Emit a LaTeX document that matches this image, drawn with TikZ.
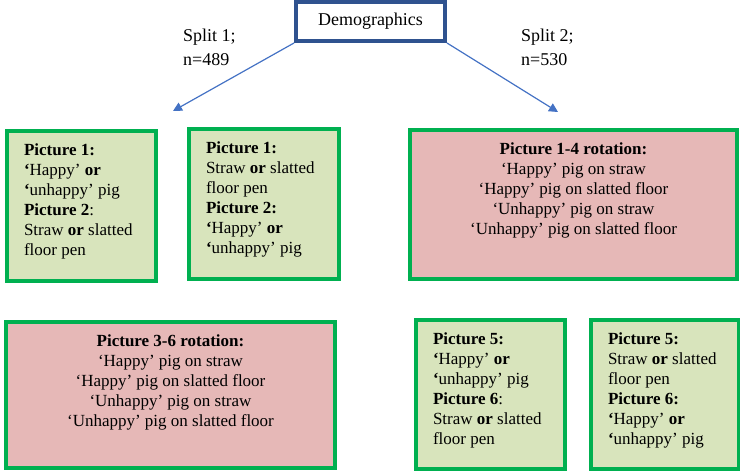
\documentclass[tikz,border=0pt]{standalone}
\usepackage{fontspec}
\setmainfont{Liberation Serif}
\usetikzlibrary{arrows.meta}
\tikzset{>={Triangle[length=9pt,width=9pt]}}
\definecolor{demoblue}{RGB}{47,82,143}
\definecolor{arrowblue}{RGB}{68,114,196}
\definecolor{cardgreen}{RGB}{0,176,80}
\definecolor{cardfill}{RGB}{216,228,188}
\definecolor{rotfill}{RGB}{230,184,183}
\newcommand{\cardtext}[3]{\parbox[c][#2pt][t]{#1pt}{\raggedright\vspace*{10pt}\strut#3}}
\newcommand{\rottext}[3]{\parbox[c][#2pt][t]{#1pt}{\centering\vspace*{10pt}\strut#3}}

\begin{document}
\begin{tikzpicture}[x=1pt,y=-1pt,
	demobox/.style={draw=demoblue,line width=4pt,minimum width=149pt,minimum height=39pt,inner sep=0pt,font=\fontsize{18}{22}\selectfont},
	card/.style={draw=cardgreen,fill=cardfill,line width=4pt,anchor=north west,inner xsep=17pt,inner ysep=0pt,font=\fontsize{17}{20}\selectfont},
	rotcard/.style={card,fill=rotfill},
	splitlabel/.style={anchor=north west,inner sep=0pt,align=left,font=\fontsize{18}{24}\selectfont},
	splitarrow/.style={->,draw=arrowblue,line width=1.2pt}]
			\useasboundingbox (0,0) rectangle (740,471);
			\node (demo) at (370.5,21.5) [demobox] {Demographics};
			\node (split1) at (183,29) [splitlabel] {Split 1;\\n=489};
			\node (split2) at (521,29) [splitlabel] {Split 2;\\n=530};
			\coordinate (lefttip) at (173,111);
			\coordinate (righttip) at (558,112);
			\draw[splitarrow] (demo.south west) -- (lefttip);
			\draw[splitarrow] (demo.south east) -- (righttip);
			% split 1
			\node (p12) at (5,129) [card] {\cardtext{115}{150}{\textbf{Picture 1:}\\
				\textbf{`}Happy' \textbf{or}\\
				\textbf{`}unhappy' pig\\
				\textbf{Picture 2}:\\
				Straw \textbf{or} slatted\\
				floor pen}};
			\node (p21) at (187,127) [card] {\cardtext{116}{150}{\textbf{Picture 1:}\\
				Straw \textbf{or} slatted\\
				floor pen\\
				\textbf{Picture 2:}\\
				\textbf{`}Happy' \textbf{or}\\
				\textbf{`}unhappy' pig}};
			\node (rot36) at (4,320) [rotcard] {\rottext{295}{146}{\textbf{Picture 3-6 rotation:}\\
				`Happy' pig on straw\\
				`Happy' pig on slatted floor\\
				`Unhappy' pig on straw\\
				`Unhappy' pig on slatted floor}};
			% split 2
			\node (rot14) at (408,128) [rotcard] {\rottext{293}{149}{\textbf{Picture 1-4 rotation:}\\
				`Happy' pig on straw\\
				`Happy' pig on slatted floor\\
				`Unhappy' pig on straw\\
				`Unhappy' pig on slatted floor}};
			\node (p56) at (414,318) [card] {\cardtext{115}{149}{\textbf{Picture 5:}\\
				\textbf{`}Happy' \textbf{or}\\
				\textbf{`}unhappy' pig\\
				\textbf{Picture 6}:\\
				Straw \textbf{or} slatted\\
				floor pen}};
			\node (p65) at (589,318) [card] {\cardtext{114}{149}{\textbf{Picture 5:}\\
				Straw \textbf{or} slatted\\
				floor pen\\
				\textbf{Picture 6:}\\
				\textbf{`}Happy' \textbf{or}\\
				\textbf{`}unhappy' pig}};
		\end{tikzpicture}
\end{document}
